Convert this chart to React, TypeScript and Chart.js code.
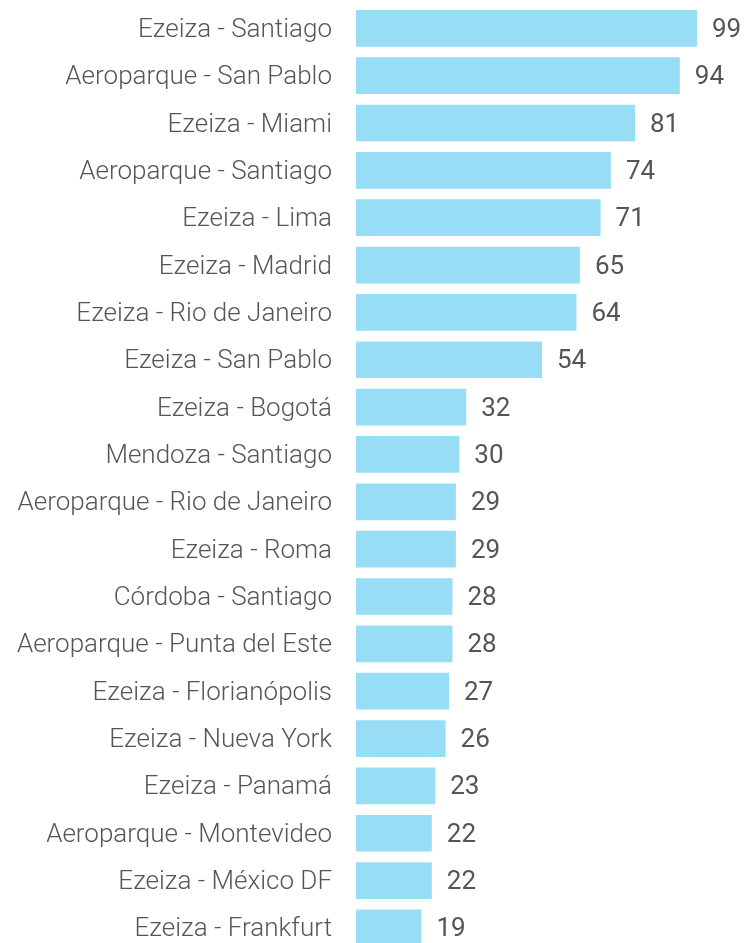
import React, { useEffect, useRef } from "react";
import { Chart, registerables } from "chart.js";

Chart.register(...registerables);

const routes = [
  "Ezeiza - Santiago",
  "Aeroparque - San Pablo",
  "Ezeiza - Miami",
  "Aeroparque - Santiago",
  "Ezeiza - Lima",
  "Ezeiza - Madrid",
  "Ezeiza - Rio de Janeiro",
  "Ezeiza - San Pablo",
  "Ezeiza - Bogotá",
  "Mendoza - Santiago",
  "Aeroparque - Rio de Janeiro",
  "Ezeiza - Roma",
  "Córdoba - Santiago",
  "Aeroparque - Punta del Este",
  "Ezeiza - Florianópolis",
  "Ezeiza - Nueva York",
  "Ezeiza - Panamá",
  "Aeroparque - Montevideo",
  "Ezeiza - México DF",
  "Ezeiza - Frankfurt",
];

const flights = [99, 94, 81, 74, 71, 65, 64, 54, 32, 30, 29, 29, 28, 28, 27, 26, 23, 22, 22, 19];

const BAR_COLOR = "#97DDF6";
const TEXT_COLOR = "#555555";

const valueLabels = {
  id: "valueLabels",
  afterDatasetsDraw(chart: any) {
    const ctx = chart.ctx;
    const meta = chart.getDatasetMeta(0);
    ctx.save();
    ctx.font = "400 26px Roboto";
    ctx.fillStyle = TEXT_COLOR;
    ctx.textAlign = "left";
    ctx.textBaseline = "middle";
    meta.data.forEach((bar: any, i: number) => {
      ctx.fillText(String(flights[i]), bar.x + 15, bar.y + 2);
    });
    ctx.restore();
  },
};

export default function App() {
  const ref = useRef<HTMLCanvasElement | null>(null);

  useEffect(() => {
    if (!ref.current) return;
    const chart = new Chart(ref.current, {
      type: "bar",
      data: {
        labels: routes,
        datasets: [
          {
            data: flights,
            backgroundColor: BAR_COLOR,
            borderWidth: 0,
            categoryPercentage: 1,
            barPercentage: 0.775,
          },
        ],
      },
      options: {
        indexAxis: "y",
        animation: false,
        responsive: false,
        maintainAspectRatio: false,
        layout: { padding: { left: 0, right: 49, top: 4.65, bottom: 3.4 } },
        plugins: {
          legend: { display: false },
          tooltip: { enabled: false },
        },
        scales: {
          x: {
            display: false,
            min: 0,
            max: 99,
          },
          y: {
            grid: { display: false, drawTicks: false },
            border: { display: false },
            afterFit: (s: any) => {
              s.width = 356;
              s.paddingTop = 0;
              s.paddingBottom = 0;
            },
            ticks: {
              padding: 24,
              labelOffset: 2,
              color: TEXT_COLOR,
              font: { family: "Roboto", size: 26, weight: "300" },
              autoSkip: false,
            },
          },
        },
      },
      plugins: [valueLabels],
    });
    return () => chart.destroy();
  }, []);

  return (
    <div
      style={{
        position: "fixed",
        left: 0,
        top: 0,
        width: 746,
        height: 943,
        overflow: "hidden",
        background: "#fff",
      }}
    >
      <canvas ref={ref} width={746} height={955} style={{ display: "block" }} />
    </div>
  );
}
